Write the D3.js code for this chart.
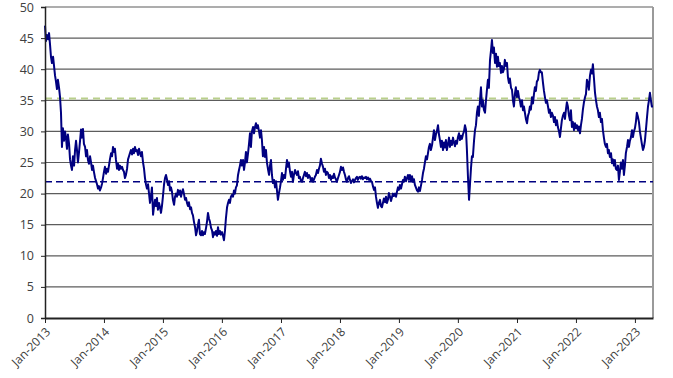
<!DOCTYPE html>
<html>
<head>
<meta charset="utf-8">
<script src="https://cdn.jsdelivr.net/npm/d3@7"></script>
<style>
  body { margin: 0; background: #fff; }
  text { font-family: "Open Sans", "DejaVu Sans", sans-serif; }
</style>
</head>
<body>
<div id="chart"></div>
<script>
// series readings, one about every 6 days from the first date
const startDate = "2013-01-01";
const stepDays = 6.19;
const values = [
  47.0,44.5,45.5,44.8,45.8,44.0,42.0,41.0,42.0,40.5,39.0,38.0,36.8,38.3,37.0,35.5,33.0,27.5,30.5,28.5,
  30.0,29.0,27.2,29.5,28.0,25.5,24.5,23.8,26.0,24.5,27.0,28.5,27.0,25.0,26.5,28.5,30.3,29.0,30.4,28.0,
  27.5,26.0,27.0,25.4,24.8,26.0,25.0,23.8,24.5,23.5,22.5,22.0,21.5,20.8,21.2,20.5,21.0,21.6,22.5,23.5,
  24.3,23.2,24.0,23.5,24.5,25.5,26.5,26.0,27.5,26.7,27.2,25.5,24.0,24.8,23.8,24.5,24.0,24.3,23.8,23.5,
  22.5,23.0,24.0,25.5,26.0,26.5,27.0,26.3,27.2,26.5,27.5,26.8,27.0,26.2,27.2,26.5,26.0,26.7,25.0,24.0,
  22.5,21.5,20.8,21.5,20.0,18.5,19.5,21.0,16.6,18.0,19.0,18.0,19.3,17.4,18.5,17.8,16.9,18.0,19.5,21.5,
  22.5,23.0,22.3,21.4,22.0,20.5,21.0,20.3,19.0,18.2,19.5,20.0,19.5,20.6,19.8,20.5,19.5,20.2,20.7,20.0,
  19.0,19.3,18.5,18.0,18.6,17.5,17.8,16.9,16.5,15.5,14.6,13.3,14.0,15.0,15.8,13.5,13.3,14.0,13.3,13.8,
  13.5,14.5,15.5,16.9,16.0,15.5,14.5,14.1,13.0,13.8,13.4,14.0,13.2,14.6,13.5,14.0,13.4,13.8,13.2,12.5,
  14.0,16.0,17.8,18.5,19.0,18.5,19.5,19.8,19.5,20.5,20.0,21.0,21.3,23.0,23.8,24.5,25.4,24.5,25.4,23.8,
  25.0,26.7,25.0,26.5,28.0,29.7,27.5,30.0,30.7,29.7,30.7,31.3,30.5,31.0,30.0,29.0,30.2,28.6,26.0,27.5,
  25.9,27.0,25.0,24.0,23.0,24.5,25.4,23.0,21.7,22.2,21.0,22.0,20.5,19.0,20.0,21.0,22.0,23.3,22.2,23.0,
  22.5,24.0,25.4,24.3,25.0,23.5,22.7,23.5,21.9,23.0,23.8,23.3,23.0,23.6,22.5,22.7,22.0,21.9,22.5,23.0,
  23.5,22.8,23.3,22.5,23.0,22.7,22.0,22.5,21.9,22.3,22.7,23.0,23.8,23.3,24.0,24.5,25.6,24.8,24.3,23.5,
  24.0,23.0,23.5,23.3,22.5,23.0,22.2,22.8,22.5,23.2,22.6,22.3,21.9,22.5,23.0,23.5,24.3,23.8,24.2,23.5,
  23.0,22.3,21.9,22.5,22.8,22.2,21.7,22.0,22.3,21.8,22.2,22.5,22.7,22.2,22.6,22.7,22.4,22.8,22.3,22.6,
  22.5,22.7,22.3,22.6,22.2,22.4,22.0,21.9,21.2,20.6,21.0,19.5,18.5,17.7,18.5,19.0,18.0,17.8,18.5,19.2,
  18.6,19.5,18.5,19.0,20.1,19.5,18.8,19.4,20.0,19.6,20.0,19.5,20.3,21.0,20.6,21.4,20.8,21.5,22.2,21.9,
  22.7,22.0,22.5,23.0,22.2,23.0,22.0,22.8,21.9,22.3,21.4,21.0,20.5,20.3,21.0,20.4,21.2,22.2,23.3,24.0,
  25.0,26.0,25.5,26.5,27.5,28.0,27.0,27.8,29.0,30.2,28.6,29.5,30.0,31.0,29.5,28.6,27.5,28.5,27.0,28.2,
  27.4,28.6,27.0,28.0,29.0,27.5,28.5,27.8,29.0,28.2,27.6,28.5,28.0,29.0,29.7,28.6,29.3,28.8,29.5,30.0,
  31.0,30.3,27.0,23.0,19.0,21.5,24.0,26.0,25.9,28.5,30.2,31.0,33.0,34.0,32.5,35.0,37.1,34.0,35.0,33.5,
  33.0,35.0,36.7,38.3,37.0,41.5,43.0,44.7,42.6,43.5,41.0,42.5,40.4,42.0,40.5,41.0,39.4,40.5,39.5,40.0,
  41.5,40.5,41.0,38.7,37.8,38.5,37.0,36.7,35.0,34.0,36.0,37.1,35.5,36.5,35.5,35.0,34.0,35.0,33.4,34.0,
  33.0,32.0,31.3,32.5,33.0,34.0,33.5,35.5,34.5,36.0,37.1,36.5,38.0,38.3,39.5,39.9,39.5,39.5,37.8,36.5,
  35.5,34.6,35.0,34.0,33.0,33.5,32.3,33.0,32.5,31.5,32.3,31.0,31.8,30.7,30.0,29.1,30.5,31.8,32.5,33.0,
  32.0,33.5,34.7,34.0,32.5,31.8,33.4,30.7,31.5,30.2,31.3,30.5,31.0,30.2,30.8,29.7,31.0,32.0,33.5,34.6,
  35.5,36.0,38.3,37.8,36.7,39.0,39.9,39.3,40.8,38.7,36.2,35.0,34.0,33.4,32.3,33.0,31.5,32.0,30.2,29.0,
  28.0,27.5,28.0,26.5,27.0,25.9,26.5,24.9,25.5,24.5,25.4,24.0,23.8,24.5,22.2,23.5,25.0,24.0,25.4,23.0,
  24.5,26.5,27.5,28.6,27.5,28.5,29.0,30.2,29.1,30.0,30.5,31.5,33.0,32.3,31.5,30.0,29.0,28.0,27.0,27.5,
  28.5,30.2,32.0,34.0,35.0,36.2,35.0,34.0,34.0
];
const yTicks = [0, 5, 10, 15, 20, 25, 30, 35, 40, 45, 50];
const xTickLabels = ["Jan-2013","Jan-2014","Jan-2015","Jan-2016","Jan-2017","Jan-2018",
                     "Jan-2019","Jan-2020","Jan-2021","Jan-2022","Jan-2023"];
const averageLevel = 21.9;
const upperLevel = 35.3;

const W = 673, H = 378;
const margin = { top: 7, right: 20, bottom: 60, left: 45 };

const parseDate = d3.timeParse("%Y-%m-%d");
const parseTick = d3.timeParse("%b-%Y");
const t0 = parseDate(startDate);
const data = values.map((v, i) => ({ date: d3.timeDay.offset(t0, Math.round(i * stepDays)), value: v }));

const svg = d3.select("#chart").append("svg")
    .attr("width", W)
    .attr("height", H);

const x = d3.scaleTime()
    .domain([t0, data[data.length - 1].date])
    .range([margin.left, W - margin.right]);

const y = d3.scaleLinear()
    .domain([0, 50])
    .range([H - margin.bottom, margin.top]);

// horizontal gridlines
svg.append("g")
    .selectAll("line")
    .data(yTicks.filter(d => d > 0))
    .enter().append("line")
    .attr("x1", margin.left)
    .attr("x2", W - margin.right)
    .attr("y1", d => y(d))
    .attr("y2", d => y(d))
    .attr("stroke", "#5c5c5c")
    .attr("stroke-width", 1.2);

// right frame
svg.append("line")
    .attr("x1", W - margin.right)
    .attr("x2", W - margin.right)
    .attr("y1", y(50))
    .attr("y2", y(0))
    .attr("stroke", "#9a9a9a")
    .attr("stroke-width", 2);

// reference lines
svg.append("line")
    .attr("x1", margin.left)
    .attr("x2", W - margin.right)
    .attr("y1", y(upperLevel))
    .attr("y2", y(upperLevel))
    .attr("stroke", "#b9cf8c")
    .attr("stroke-width", 2)
    .attr("stroke-dasharray", "7,5");

svg.append("line")
    .attr("x1", margin.left)
    .attr("x2", W - margin.right)
    .attr("y1", y(averageLevel))
    .attr("y2", y(averageLevel))
    .attr("stroke", "#000080")
    .attr("stroke-width", 1.6)
    .attr("stroke-dasharray", "7,4");

// the series
const line = d3.line()
    .x(d => x(d.date))
    .y(d => y(d.value));

svg.append("path")
    .datum(data)
    .attr("fill", "none")
    .attr("stroke", "#000080")
    .attr("stroke-width", 2)
    .attr("stroke-linejoin", "round")
    .attr("d", line);

// y axis
const yAxis = svg.append("g")
    .attr("transform", `translate(${margin.left},0)`)
    .call(d3.axisLeft(y).tickValues(yTicks).tickSize(4).tickPadding(7));
yAxis.select(".domain").attr("stroke", "#222").attr("stroke-width", 1.5);
yAxis.selectAll(".tick line").attr("stroke", "#222");
yAxis.selectAll(".tick text")
    .attr("font-size", "12.5px")
    .attr("fill", "#404040")
    .style("font-family", "\"Open Sans\", sans-serif");

// x axis
const xAxis = svg.append("g")
    .attr("transform", `translate(0,${H - margin.bottom})`)
    .call(d3.axisBottom(x)
        .tickValues(xTickLabels.map(parseTick))
        .tickFormat(d3.timeFormat("%b-%Y"))
        .tickSize(5)
        .tickSizeOuter(0));
xAxis.select(".domain").attr("stroke", "#222").attr("stroke-width", 2);
xAxis.selectAll(".tick line").attr("stroke", "#222");
xAxis.selectAll(".tick text")
    .attr("font-size", "12px")
    .attr("fill", "#404040")
    .style("font-family", "\"Open Sans\", sans-serif")
    .attr("text-anchor", "end")
    .attr("dx", "0")
    .attr("dy", "0")
    .attr("transform", "translate(0,9) rotate(-45)");
</script>
</body>
</html>
